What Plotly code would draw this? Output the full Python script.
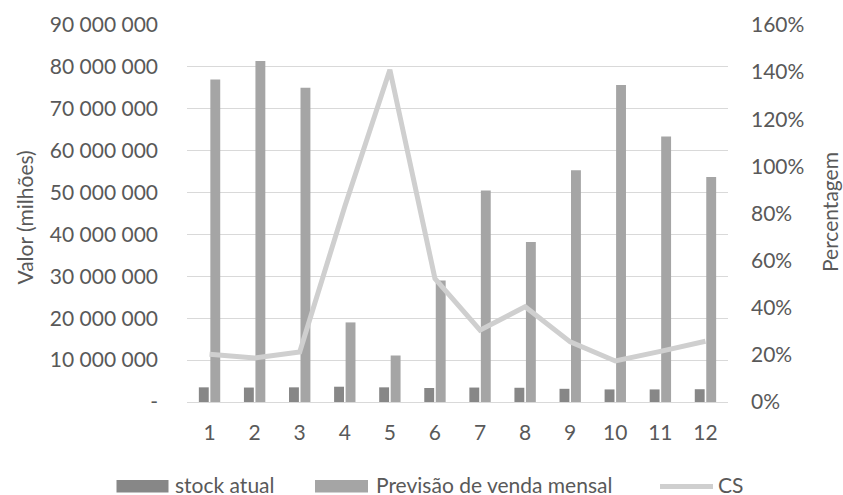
import plotly.graph_objects as go

# Monthly data
meses = [str(m) for m in range(1, 13)]
stock_atual = [3.5e6, 3.45e6, 3.5e6, 3.65e6, 3.5e6, 3.35e6, 3.45e6, 3.4e6, 3.15e6, 3.0e6, 3.0e6, 3.05e6]
previsao_venda = [77.0e6, 81.4e6, 75.0e6, 19.0e6, 11.1e6, 29.0e6, 50.5e6, 38.2e6, 55.3e6, 75.7e6, 63.4e6, 53.7e6]
cs = [0.203, 0.187, 0.212, 0.83, 1.41, 0.524, 0.305, 0.404, 0.255, 0.174, 0.215, 0.258]

# Left axis ticks (space as thousands separator, dash for zero)
y_ticks = [i * 10_000_000 for i in range(10)]
y_ticktext = ["-" if v == 0 else f"{v:,}".replace(",", " ") for v in y_ticks]

FONT = "Lato, 'Open Sans', sans-serif"
FS = 21
TXT = "#595959"
C_STOCK = "#878787"
C_PREV = "#a5a5a5"
C_CS = "#cfcfcf"
GRID = "#d9d9d9"

W, H = 843, 495
L, R, T, B = 187, 115, 25, 93


def px_x(px):
    return (px - L) / (W - L - R)


def px_y(py):
    return (H - B - py) / (H - T - B)


fig = go.Figure()
fig.add_trace(go.Bar(x=meses, y=stock_atual, name="stock atual",
                     marker=dict(color=C_STOCK, line=dict(width=0)), yaxis="y"))
fig.add_trace(go.Bar(x=meses, y=previsao_venda, name="Previsão de venda mensal",
                     marker=dict(color=C_PREV, line=dict(width=0)), yaxis="y"))
fig.add_trace(go.Scatter(x=meses, y=cs, name="CS", mode="lines",
                         line=dict(color=C_CS, width=5), yaxis="y2"))

# Legend drawn as wide swatches under the chart
ly = 484
shapes = [
    dict(type="rect", xref="paper", yref="paper", x0=px_x(116.5), x1=px_x(168.5),
         y0=px_y(480), y1=px_y(492.5), fillcolor=C_STOCK, line=dict(width=0)),
    dict(type="rect", xref="paper", yref="paper", x0=px_x(315), x1=px_x(368),
         y0=px_y(480), y1=px_y(492.5), fillcolor=C_PREV, line=dict(width=0)),
    dict(type="line", xref="paper", yref="paper", x0=px_x(660), x1=px_x(713),
         y0=px_y(486.5), y1=px_y(486.5), line=dict(color=C_CS, width=5)),
]
annotations = [
    dict(text=t, xref="paper", yref="paper", x=px_x(x), y=px_y(ly),
         xanchor="left", yanchor="middle", showarrow=False, height=22,
         font=dict(family=FONT, size=FS, color=TXT))
    for t, x in [("stock atual", 173), ("Previsão de venda mensal", 374), ("CS", 716)]
]
# Axis titles
annotations += [
    dict(text="Valor (milhões)", xref="paper", yref="paper", x=px_x(23.5), y=px_y(218),
         xanchor="center", yanchor="middle", textangle=-90, showarrow=False,
         font=dict(family=FONT, size=FS, color=TXT)),
    dict(text="Percentagem", xref="paper", yref="paper", x=px_x(829), y=px_y(212),
         xanchor="center", yanchor="middle", textangle=-90, showarrow=False,
         font=dict(family=FONT, size=FS, color=TXT)),
]

fig.update_layout(
    template="none",
    width=W, height=H,
    margin=dict(l=L, r=R, t=T, b=B, pad=0),
    paper_bgcolor="white", plot_bgcolor="white",
    font=dict(family=FONT, size=FS, color=TXT),
    barmode="group", bargap=0.49, bargroupgap=0.14,
    showlegend=False,
    shapes=shapes, annotations=annotations,
    xaxis=dict(type="category", showgrid=False, showline=True, linecolor=GRID, linewidth=1.3,
               ticks="", ticklabelstandoff=12, tickfont=dict(size=FS, color=TXT),
               zeroline=False, automargin=False),
    yaxis=dict(range=[0, 90_000_000], tickvals=y_ticks, ticktext=y_ticktext,
               showgrid=True, gridcolor=GRID, gridwidth=1.3, zeroline=False,
               showline=False, ticks="", ticklabelstandoff=28,
               tickfont=dict(size=FS, color=TXT), automargin=False),
    yaxis2=dict(range=[0, 1.6], dtick=0.2, tickformat=".0%", overlaying="y", side="right",
                showgrid=False, zeroline=False, showline=False, ticks="",
                ticklabelstandoff=22, tickfont=dict(size=FS, color=TXT), automargin=False),
)

fig.write_html("out.html")
